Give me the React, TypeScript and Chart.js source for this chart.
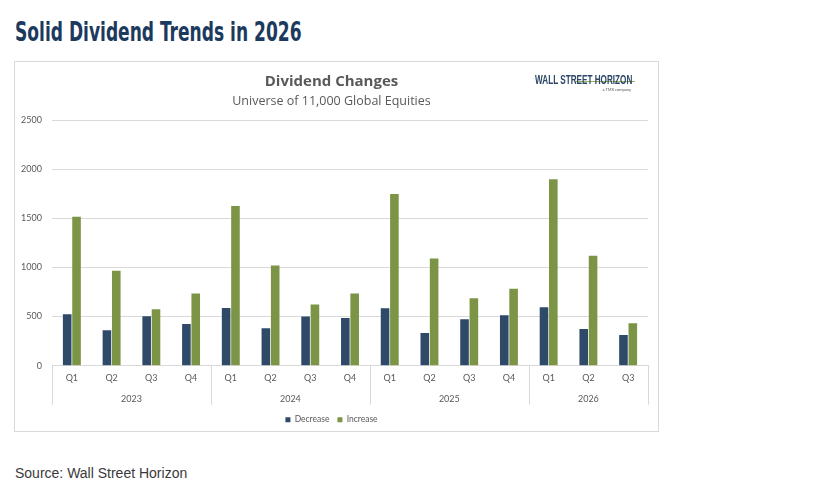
import { useEffect, useRef } from "react";
import { Chart, registerables } from "chart.js";

Chart.register(...registerables);

// quarters on the axis, with the year each one belongs to
const quarters = ["Q1", "Q2", "Q3", "Q4", "Q1", "Q2", "Q3", "Q4", "Q1", "Q2", "Q3", "Q4", "Q1", "Q2", "Q3"];
const quarterYears = ["2023", "2023", "2023", "2023", "2024", "2024", "2024", "2024", "2025", "2025", "2025", "2025", "2026", "2026", "2026"];

const decreases = [524, 360, 503, 425, 588, 381, 500, 486, 585, 333, 473, 514, 595, 374, 313];
const increases = [1516, 966, 575, 735, 1626, 1020, 622, 735, 1748, 1092, 687, 782, 1898, 1119, 432];

const yTicks = [0, 500, 1000, 1500, 2000, 2500];

const GRAY = "#595959";
const LINE = "#d9d9d9";

const yearGroups = {
  id: "yearGroups",
  afterDraw(chart: any) {
    const { ctx, chartArea } = chart;
    const x = chart.scales.x;
    const half = (x.getPixelForValue(1) - x.getPixelForValue(0)) / 2;
    const top = chartArea.bottom;
    const bottom = top + 39;

    ctx.save();
    ctx.strokeStyle = LINE;
    ctx.lineWidth = 1;
    ctx.fillStyle = GRAY;
    ctx.font = "9px Lato";
    ctx.textAlign = "center";
    ctx.textBaseline = "middle";

    let start = 0;
    for (let i = 1; i <= quarterYears.length; i++) {
      if (i === quarterYears.length || quarterYears[i] !== quarterYears[start]) {
        const left = x.getPixelForValue(start) - half;
        const right = x.getPixelForValue(i - 1) + half;
        ctx.fillText(quarterYears[start], (left + right) / 2, top + 33);
        ctx.beginPath();
        ctx.moveTo(Math.round(left) + 0.5, top);
        ctx.lineTo(Math.round(left) + 0.5, bottom);
        if (i === quarterYears.length) {
          ctx.moveTo(Math.round(right) + 0.5, top);
          ctx.lineTo(Math.round(right) + 0.5, bottom);
        }
        ctx.stroke();
        start = i;
      }
    }
    ctx.restore();
  },
};

function DividendChart() {
  const canvasRef = useRef<HTMLCanvasElement>(null);
  const chartRef = useRef<Chart | null>(null);

  useEffect(() => {
    if (!canvasRef.current) return;
    if (chartRef.current) chartRef.current.destroy();

    chartRef.current = new Chart(canvasRef.current, {
      type: "bar",
      data: {
        labels: quarters,
        datasets: [
          { label: "Decrease", data: decreases, backgroundColor: "#2e4a68" },
          { label: "Increase", data: increases, backgroundColor: "#7b9446" },
        ],
      },
      options: {
        animation: false,
        responsive: false,
        datasets: { bar: { categoryPercentage: 0.47, barPercentage: 0.92 } },
        layout: { padding: { top: 11, right: 10, left: 0, bottom: -3 } },
        scales: {
          x: {
            grid: { display: false, drawTicks: false },
            border: { color: LINE },
            ticks: { color: GRAY, font: { family: "Lato", size: 9 }, padding: 7 },
            afterFit: (scale: any) => {
              scale.height += 17;
            },
          },
          y: {
            min: 0,
            max: 2500,
            afterBuildTicks: (scale: any) => {
              scale.ticks = yTicks.map((v) => ({ value: v }));
            },
            afterFit: (scale: any) => {
              scale.width = 37;
            },
            grid: { color: LINE, drawTicks: false },
            border: { display: false },
            ticks: {
              color: GRAY,
              font: { family: "Lato", size: 9 },
              padding: 10,
              callback: (v: any) => String(v),
            },
          },
        },
        plugins: {
          title: {
            display: true,
            text: "Dividend Changes",
            color: GRAY,
            font: { family: "Open Sans", size: 15, weight: "bold" },
            padding: { top: 0, bottom: 3 },
          },
          subtitle: {
            display: true,
            text: "Universe of 11,000 Global Equities",
            color: GRAY,
            font: { family: "Open Sans", size: 12.5 },
            padding: { bottom: 11 },
          },
          legend: {
            position: "bottom",
            labels: {
              color: GRAY,
              font: { family: "Lato", size: 8.5 },
              boxWidth: 5,
              boxHeight: 5,
              padding: 8,
            },
          },
          tooltip: { enabled: false },
        },
      },
      plugins: [yearGroups],
    });

    return () => {
      if (chartRef.current) chartRef.current.destroy();
      chartRef.current = null;
    };
  }, []);

  return <canvas ref={canvasRef} width={643} height={369} />;
}

export default function App() {
  return (
    <div style={{ position: "absolute", left: 0, top: 0, width: 823, height: 498, background: "#fff" }}>
      <div
        style={{
          position: "absolute",
          left: 15,
          top: 17,
          fontFamily: "'Liberation Sans Narrow', 'DejaVu Sans Condensed', sans-serif",
          fontWeight: 700,
          fontSize: 26,
          color: "#1c3a5e",
          whiteSpace: "nowrap",
          transform: "scaleX(0.73)",
          transformOrigin: "left top",
        }}
      >
        Solid Dividend Trends in 2026
      </div>
      <div
        style={{
          position: "absolute",
          left: 14,
          top: 61,
          width: 643,
          height: 369,
          border: `1px solid ${LINE}`,
        }}
      >
        <DividendChart />
        <div style={{ position: "absolute", left: 520, top: 12, width: 98, lineHeight: 1 }}>
          <div
            style={{
              fontFamily: "'Liberation Sans Narrow', sans-serif",
              fontWeight: 700,
              fontSize: 12,
              color: "#2b4666",
              whiteSpace: "nowrap",
              transform: "scaleX(0.68)",
              transformOrigin: "left top",
            }}
          >
            WALL STREET HORIZON
          </div>
          <div style={{ height: 1, background: "#9bb55c", marginTop: -5, marginLeft: 40, width: 60 }} />
          <div style={{ fontFamily: "Lato", fontSize: 4, color: "#555", textAlign: "right", marginTop: 6, marginRight: 2 }}>
            a TMX company
          </div>
        </div>
      </div>
      <div
        style={{
          position: "absolute",
          left: 15,
          top: 465,
          fontFamily: "'Liberation Sans', sans-serif",
          fontSize: 14,
          color: "#3a3a3a",
        }}
      >
        Source: Wall Street Horizon
      </div>
    </div>
  );
}
